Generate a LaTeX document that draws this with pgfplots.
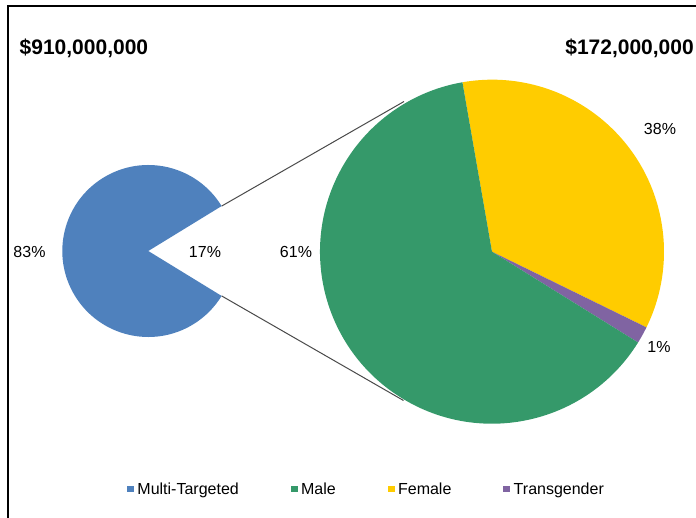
\documentclass[border=0pt]{standalone}
\usepackage{pgfplots}
\usepackage{pgfplotstable}
\pgfplotsset{compat=1.18}
\usepackage{fontspec}
\setmainfont{Liberation Sans}
\definecolor{cBlue}{HTML}{4F81BD}
\definecolor{cGreen}{HTML}{35996A}
\definecolor{cYellow}{HTML}{FFCC00}
\definecolor{cPurple}{HTML}{8064A2}
\definecolor{cLine}{HTML}{4A4A4A}

% first pie (share of total, %)
\pgfplotstableread{
label value
MultiTargeted 82.5
Other 17.5
}\firstpie
% second pie (share of the split-off part, %), clockwise from 99.9 deg
\pgfplotstableread{
label value
Female 35.0
Transgender 1.6
Male 63.4
}\secondpie

\begin{document}
\begin{tikzpicture}
\pgfplotstablegetelem{1}{value}\of\firstpie \let\vOther\pgfplotsretval
\pgfplotstablegetelem{0}{value}\of\secondpie \let\vFemale\pgfplotsretval
\pgfplotstablegetelem{1}{value}\of\secondpie \let\vTrans\pgfplotsretval
\pgfplotstablegetelem{2}{value}\of\secondpie \let\vMale\pgfplotsretval
\pgfmathsetmacro{\half}{\vOther*3.6/2}
\pgfmathsetmacro{\aA}{99.9}
\pgfmathsetmacro{\aB}{\aA-\vFemale*3.6}
\pgfmathsetmacro{\aC}{\aB-\vTrans*3.6}
\pgfmathsetmacro{\aD}{\aC-\vMale*3.6}
\pgfmathsetmacro{\hEnd}{360-\half}
\begin{axis}[
  at={(0,0)}, anchor=south west,
  x=1bp, y=1bp, xmin=0, xmax=696, ymin=0, ymax=518,
  scale only axis, hide axis, clip=false,
  legend image code/.code={\fill[#1] (0bp,-3.4bp) rectangle (6.8bp,3.4bp);},
  legend style={at={(axis cs:365.5,29)}, anchor=center, draw=none, fill=none,
    legend columns=4, font=\fontsize{16bp}{19bp}\selectfont,
    nodes={inner sep=0pt},
    /tikz/every odd column/.append style={column sep=3.5bp},
    /tikz/every even column/.append style={column sep=52bp}},
  legend cell align=left,
]
\addlegendimage{fill=cBlue,draw=none}
\addlegendentry{Multi-Targeted}
\addlegendimage{fill=cGreen,draw=none}
\addlegendentry{Male}
\addlegendimage{fill=cYellow,draw=none}
\addlegendentry{Female}
\addlegendimage{fill=cPurple,draw=none}
\addlegendentry{Transgender}

% frame
\draw[line width=1.3bp, black] (axis cs:8,0) -- (axis cs:8,512) -- (axis cs:697,512);

% connector lines
\draw[cLine, line width=1bp] (axis cs:221.6,311.9) -- (axis cs:404,416.5);
\draw[cLine, line width=1bp] (axis cs:221.6,222.1) -- (axis cs:403.5,117.5);

% first pie
\fill[cBlue] (axis cs:148.3,267) -- ++(\half:86bp)
  arc[start angle=\half, end angle=\hEnd, radius=86bp] -- cycle;

% second pie
\fill[cYellow] (axis cs:492,266.3) -- ++(\aA:172bp)
  arc[start angle=\aA, end angle=\aB, radius=172bp] -- cycle;
\fill[cPurple] (axis cs:492,266.3) -- ++(\aB:172bp)
  arc[start angle=\aB, end angle=\aC, radius=172bp] -- cycle;
\fill[cGreen] (axis cs:492,266.3) -- ++(\aC:172bp)
  arc[start angle=\aC, end angle=\aD, radius=172bp] -- cycle;

% data labels
\begin{scope}[every node/.style={font=\fontsize{16bp}{19bp}\selectfont, inner sep=0pt}]
\node at (axis cs:29.5,266) {83\%};
\node at (axis cs:205,266) {17\%};
\node at (axis cs:296,266) {61\%};
\node at (axis cs:660,389.5) {38\%};
\node at (axis cs:659,171) {1\%};
\end{scope}

% titles
\node[anchor=west, inner sep=0pt, font=\fontsize{21bp}{24bp}\selectfont\bfseries]
  at (axis cs:19.5,469.7) {\$910,000,000};
\node[anchor=east, inner sep=0pt, font=\fontsize{21bp}{24bp}\selectfont\bfseries]
  at (axis cs:694,469.7) {\$172,000,000};
\end{axis}
\pgfresetboundingbox
\path[use as bounding box] (0,0) rectangle (696bp,518bp);
\end{tikzpicture}
\end{document}
